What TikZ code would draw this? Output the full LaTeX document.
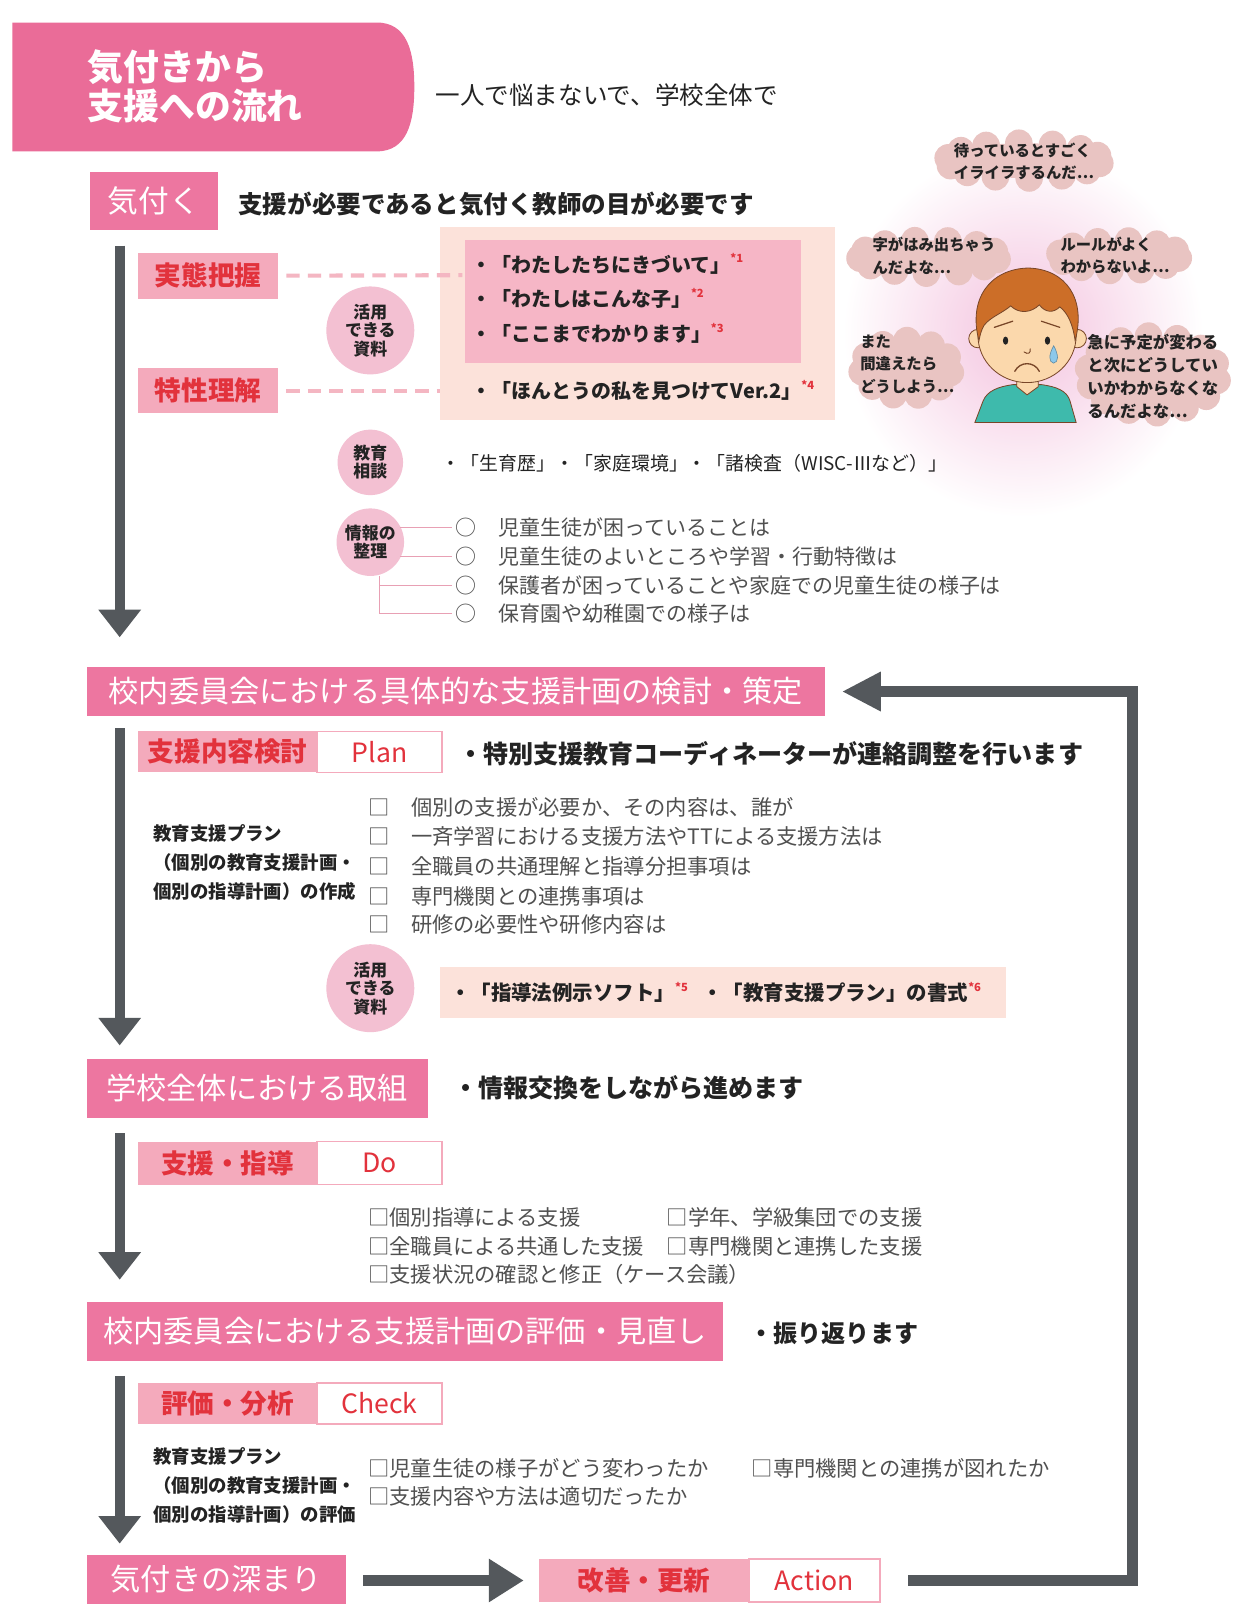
\documentclass[tikz,border=0pt]{standalone}
\usepackage{fontspec}
\setmainfont{Noto Sans CJK JP}
\usetikzlibrary{arrows.meta,calc}
\definecolor{titlepink}{RGB}{234,108,152}
\definecolor{headpink}{RGB}{237,118,160}
\definecolor{tagpink}{RGB}{244,170,188}
\definecolor{tagred}{RGB}{226,50,60}
\definecolor{circpink}{RGB}{243,192,210}
\definecolor{peach}{RGB}{252,226,218}
\definecolor{innerpink}{RGB}{246,182,198}
\definecolor{arrowgray}{RGB}{84,88,92}
\definecolor{textdark}{RGB}{35,35,35}
\definecolor{textgray}{RGB}{80,80,80}
\definecolor{linepink}{RGB}{232,160,180}
\definecolor{dashpink}{RGB}{244,182,194}
\definecolor{cloudc}{RGB}{233,196,194}
\definecolor{glowpink}{RGB}{240,175,212}
\definecolor{skin}{RGB}{251,216,172}
\definecolor{hairc}{RGB}{204,110,40}
\definecolor{shirt}{RGB}{62,186,172}
\definecolor{tearblue}{RGB}{140,200,235}
\definecolor{outline}{RGB}{120,70,40}
\newcommand\fsz[2]{\fontsize{#1}{#2}\selectfont}
\newcommand\fnote[1]{{\color{tagred}\fsz{11}{11}\raisebox{9pt}{*#1}}}
% a puffy speech cloud: centre x, centre y, width, height, number of puffs
\newcommand\puffcloud[5]{%
  \fill[cloudc] (#1,#2) ellipse [x radius={#3/2-13}, y radius={#4/2-13}];
  \foreach \k in {1,...,#5}{%
    \fill[cloudc] ({#1+(#3/2-13)*cos(360*\k/#5+9)},{#2+(#4/2-13)*sin(360*\k/#5+9)}) circle (13.5);}%
}
\pgfdeclareradialshading{boyglow}{\pgfpoint{0bp}{0bp}}{color(0bp)=(glowpink!75); color(9bp)=(glowpink!45); color(22bp)=(white); color(50bp)=(white)}
\begin{document}
\begin{tikzpicture}[x=1pt,y=-1pt,
  every node/.style={inner sep=0pt, outer sep=0pt},
  headbox/.style={fill=headpink, text=white, font=\fsz{29.5}{30}},
  tagbox/.style={fill=tagpink, text=tagred, font=\bfseries\fsz{26}{26}},
  tagwhite/.style={fill=white, draw=tagpink, line width=1.5pt, text=tagred, font=\fsz{26}{26}, anchor=west},
  jlead/.style={anchor=west, text=textdark, font=\bfseries\fsz{24.5}{24}},
  restext/.style={anchor=west, text=textdark, font=\bfseries\fsz{19.5}{20}},
  jitem/.style={anchor=west, text=textgray, font=\fsz{20.8}{21}},
  jnote/.style={anchor=west, align=left, text=textdark, font=\bfseries\fsz{18}{28.5}},
  badge/.style={circle, fill=circpink, text=textdark, align=center, font=\bfseries\fsz{16.5}{18}},
  flowarrow/.style={draw=arrowgray, line width=10pt, -{Triangle[width=40pt,length=27pt]}},
  backflow/.style={draw=arrowgray, line width=10pt, line join=miter, -{Triangle[width=36pt,length=38pt]}},
  dashlink/.style={draw=dashpink, line width=4pt, dash pattern=on 13pt off 8pt},
  orgline/.style={draw=linepink, line width=1.2pt},
  worry/.style={text=textdark, align=left, font=\bfseries\fsz{15}{22}},
]
\useasboundingbox (0,0) rectangle (1207,1568);
\fill[white] (0,0) rectangle (1207,1568);

% soft glow behind the child
\shade[shading=boyglow] (1000,325) ellipse [x radius=200, y radius=205];

% ---------- title ----------
\fill[titlepink] (12,22) -- (368,22) .. controls (398,22) and (405,50) .. (405,85)
   .. controls (405,120) and (398,148) .. (368,148) -- (12,148) -- cycle;
\node[anchor=west, align=left, text=white, font=\bfseries\fsz{35}{38}] (title) at (86,84) {気付きから\\支援への流れ};
\node[anchor=west, text=textdark, font=\fsz{24}{24}] (motto) at (426,93) {一人で悩まないで、学校全体で};

% ---------- stage 1 ----------
\node[headbox, minimum width=125, minimum height=57, font=\fsz{30}{30}] (kiduku) at (150.5,196.5) {気付く};
\node[jlead, font=\bfseries\fsz{24}{24}] (kidukutxt) at (233,200) {支援が必要であると気付く教師の目が必要です};

\coordinate (a1s) at (117,240);
\coordinate (a1e) at (117,623);
\draw[flowarrow] (a1s) -- (a1e);

\node[tagbox, minimum width=137, minimum height=45] (jittai) at (203.5,269.5) {実態把握};
\node[tagbox, minimum width=137, minimum height=44] (tokusei) at (203.5,382) {特性理解};

\node[fill=peach, minimum width=386, minimum height=189] (resbox) at (623,316.5) {};
\node[fill=innerpink, minimum width=328, minimum height=120] (resinner) at (619,295) {};
\coordinate (d1e) at (452,269);
\coordinate (d2e) at (430,382);
\draw[dashlink] ([xshift=8pt]jittai.east) -- (d1e);
\draw[dashlink] ([xshift=8pt]tokusei.east) -- (d2e);

\node[restext] (r1) at (461,258) {・「わたしたちにきづいて」\fnote{1}};
\node[restext] (r2) at (461,292) {・「わたしはこんな子」\fnote{2}};
\node[restext] (r3) at (461,326) {・「ここまでわかります」\fnote{3}};
\node[restext] (r4) at (461,382) {・「ほんとうの私を見つけてVer.2」\fnote{4}};

\node[badge, minimum size=86] (katsuyou1) at (362,323) {活用\\できる\\資料};
\node[badge, minimum size=64] (soudan) at (362,452) {教育\\相談};
\node[anchor=west, text=textdark, font=\fsz{18.5}{19}] (soudantxt) at (432,453) {・「生育歴」・「家庭環境」・「諸検査（WISC-Ⅲなど）」};
\node[badge, minimum size=66] (seiri) at (362,530) {情報の\\整理};

\node[jitem, font=\fsz{20.5}{21}] (o1) at (445,516) {○\hspace{22pt}児童生徒が困っていることは};
\node[jitem, font=\fsz{20.5}{21}] (o2) at (445,544) {○\hspace{22pt}児童生徒のよいところや学習・行動特徴は};
\node[jitem, font=\fsz{20.5}{21}] (o3) at (445,572) {○\hspace{22pt}保護者が困っていることや家庭での児童生徒の様子は};
\node[jitem, font=\fsz{20.5}{21}] (o4) at (445,600) {○\hspace{22pt}保育園や幼稚園での様子は};
\draw[orgline] ([xshift=-4pt]seiri.east |- o1.west) -- ([xshift=-3pt]o1.west);
\draw[orgline] ([xshift=-4pt]seiri.east |- o2.west) -- ([xshift=-3pt]o2.west);
\draw[orgline] ([xshift=9pt]seiri.south) |- ([xshift=-3pt]o4.west);
\draw[orgline] ([xshift=9pt]seiri.south |- o3.west) -- ([xshift=-3pt]o3.west);

% ---------- the child and his worries ----------
\draw[outline, line width=0.8pt, fill=shirt] (953,413) -- (961,392) .. controls (965,382) and (976,378) .. (990,376)
   -- (1018,376) .. controls (1033,378) and (1043,382) .. (1046,392) -- (1052,413) -- cycle;
\draw[outline, line width=0.8pt, fill=skin] (994,362) -- (994,378) -- (1004,386) -- (1015,378) -- (1015,362) -- cycle;
\draw[outline, line width=0.8pt, fill=skin] (956,331) circle (9);
\draw[outline, line width=0.8pt, fill=skin] (1053,331) circle (9);
\draw[outline, line width=0.8pt, fill=skin] (1004,328) ellipse [x radius=48, y radius=46];
\draw[outline, line width=0.8pt, fill=hairc] (957,333) .. controls (946,292) and (968,263) .. (1005,262)
   .. controls (1042,263) and (1062,292) .. (1051,333)
   .. controls (1049,318) and (1044,306) .. (1036,300)
   .. controls (1030,306) and (1022,306) .. (1016,298)
   .. controls (1008,306) and (996,307) .. (988,299)
   .. controls (980,306) and (968,310) .. (962,318)
   .. controls (959,323) and (958,328) .. (957,333) -- cycle;
\draw[outline, line width=1.2pt, line cap=round] (972,320) -- (990,314);
\draw[outline, line width=1.2pt, line cap=round] (1018,314) -- (1036,320);
\fill[textdark] (983,333) ellipse [x radius=2.6, y radius=4];
\fill[textdark] (1024,333) ellipse [x radius=2.6, y radius=4];
\draw[outline, line width=0.9pt, line cap=round] (1001,344) .. controls (1005,347) and (1008,345) .. (1007,341);
\draw[outline, line width=1.3pt, line cap=round] (992,363) .. controls (997,353) and (1011,353) .. (1016,363);
\draw[draw=tearblue!70!black, line width=0.6pt, fill=tearblue] (1030,338) .. controls (1025,347) and (1025,354) .. (1030,355)
   .. controls (1035,354) and (1035,347) .. (1030,338) -- cycle;

\puffcloud{1001}{157}{176}{60}{14}
\puffcloud{908}{251}{161}{58}{13}
\puffcloud{1094}{250}{143}{55}{12}
\puffcloud{886}{360}{113}{80}{11}
\puffcloud{1127}{366}{153}{101}{14}
\node[worry] (w1) at (1001,158) {待っているとすごく\\イライラするんだ…};
\node[worry] (w2) at (913,250) {字がはみ出ちゃう\\んだよな…};
\node[worry] (w3) at (1090,250) {ルールがよく\\わからないよ…};
\node[worry] (w4) at (887,356) {また\\間違えたら\\どうしよう…};
\node[worry, font=\bfseries\fsz{16}{22.5}] (w5) at (1127,368) {急に予定が変わる\\と次にどうしてい\\いかわからなくな\\るんだよな…};

% ---------- stage 2: plan ----------
\node[headbox, minimum width=721, minimum height=48] (h2) at (445.5,676) {校内委員会における具体的な支援計画の検討・策定};
\coordinate (a2s) at (117,712);
\coordinate (a2e) at (117,1022);
\draw[flowarrow] (a2s) -- (a2e);

\node[tagbox, minimum width=175, minimum height=40] (plantag) at (222.5,735) {支援内容検討};
\node[tagwhite, minimum width=122, minimum height=40] (planw) at (plantag.east) {Plan};
\node[jlead] (plantxt) at (448,737) {・特別支援教育コーディネーターが連絡調整を行います};

\node[jnote] (plannote) at (150,843.5) {教育支援プラン\\（個別の教育支援計画・\\個別の指導計画）の作成};
\node[jitem] (p1) at (360,789) {□\hspace{21pt}個別の支援が必要か、その内容は、誰が};
\node[jitem] (p2) at (360,818) {□\hspace{21pt}一斉学習における支援方法やTTによる支援方法は};
\node[jitem] (p3) at (360,847) {□\hspace{21pt}全職員の共通理解と指導分担事項は};
\node[jitem] (p4) at (360,876) {□\hspace{21pt}専門機関との連携事項は};
\node[jitem] (p5) at (360,904) {□\hspace{21pt}研修の必要性や研修内容は};

\node[badge, minimum size=86] (katsuyou2) at (362,966) {活用\\できる\\資料};
\node[fill=peach, minimum width=553, minimum height=50] (resbox2) at (706.5,970) {};
\node[restext, font=\bfseries\fsz{20}{20}] (r5) at (440,970) {・「指導法例示ソフト」\fnote{5}\hspace{14pt}・「教育支援プラン」の書式\fnote{6}};

% ---------- stage 3: do ----------
\node[headbox, minimum width=333, minimum height=58] (h3) at (251.5,1064) {学校全体における取組};
\node[jlead] (h3txt) at (443,1063) {・情報交換をしながら進めます};
\coordinate (a3s) at (117,1108);
\coordinate (a3e) at (117,1251);
\draw[flowarrow] (a3s) -- (a3e);

\node[tagbox, minimum width=175, minimum height=42] (dotag) at (222.5,1137) {支援・指導};
\node[tagwhite, minimum width=122, minimum height=42] (dow) at (dotag.east) {Do};

\node[jitem] (d1) at (360,1190) {□個別指導による支援};
\node[jitem] (d2) at (652,1190) {□学年、学級集団での支援};
\node[jitem] (d3) at (360,1218) {□全職員による共通した支援};
\node[jitem] (d4) at (652,1218) {□専門機関と連携した支援};
\node[jitem] (d5) at (360,1246) {□支援状況の確認と修正（ケース会議）};

% ---------- stage 4: check ----------
\node[headbox, minimum width=622, minimum height=57] (h4) at (396,1301.5) {校内委員会における支援計画の評価・見直し};
\node[jlead, font=\bfseries\fsz{23.5}{24}] (h4txt) at (733,1303) {・振り返ります};
\coordinate (a4s) at (117,1345);
\coordinate (a4e) at (117,1509);
\draw[flowarrow] (a4s) -- (a4e);

\node[tagbox, minimum width=175, minimum height=40] (checktag) at (222.5,1372) {評価・分析};
\node[tagwhite, minimum width=122, minimum height=40] (checkw) at (checktag.east) {Check};

\node[jnote] (checknote) at (150,1452) {教育支援プラン\\（個別の教育支援計画・\\個別の指導計画）の評価};
\node[jitem] (c1) at (360,1435) {□児童生徒の様子がどう変わったか};
\node[jitem] (c2) at (360,1463) {□支援内容や方法は適切だったか};
\node[jitem] (c3) at (735,1435) {□専門機関との連携が図れたか};

% ---------- stage 5: action ----------
\node[headbox, minimum width=253, minimum height=48] (h5) at (211.5,1544) {気付きの深まり};
\node[tagbox, minimum width=205, minimum height=42] (kaizentag) at (629.5,1545) {改善・更新};
\node[tagwhite, minimum width=128, minimum height=42] (actw) at (kaizentag.east) {Action};
\draw[draw=arrowgray, line width=10pt, -{Triangle[width=40pt,length=34pt]}]
   ([xshift=17pt]h5.east |- kaizentag.west) -- ([xshift=-15pt]kaizentag.west);

% feedback loop back to the planning committee
\coordinate (fbbr) at (1107,1545);
\coordinate (fbtr) at (1107,676);
\draw[backflow] ([xshift=28pt]actw.east) -- (fbbr) -- (fbtr) -- ([xshift=17pt]h2.east);
\end{tikzpicture}
\end{document}
